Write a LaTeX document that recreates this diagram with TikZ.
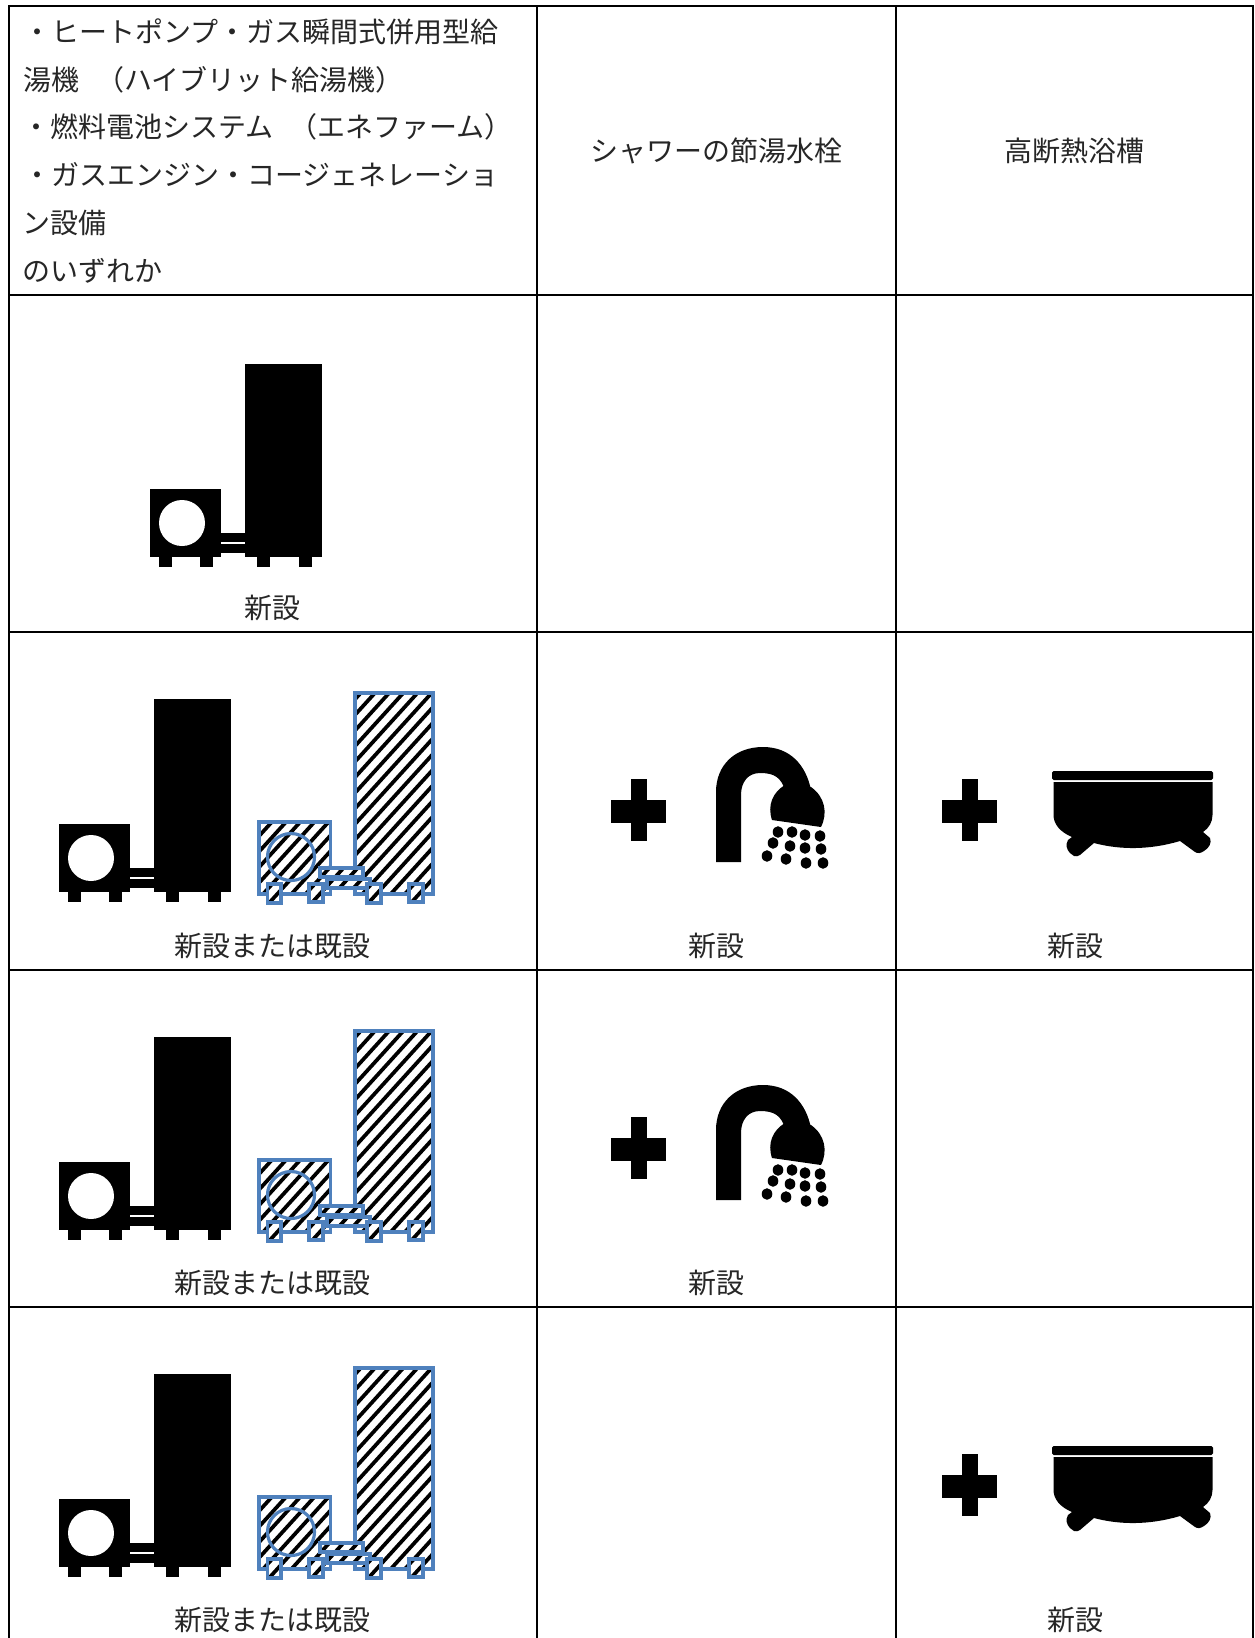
\documentclass[tikz,border=0pt]{standalone}
\usepackage{fontspec}
\setmainfont{Noto Sans CJK JP}
\newcommand{\allhatch}{%
  \foreach \k in {0,...,32}{%
    \pgfmathsetmacro{\cc}{690+\k*15.6}%
    \draw[hatchline] (250,\cc) -- (440,\cc-1.1*190);
  }}
\newcommand{\hatchbox}[4]{%
  \fill[white] (#1,#2) rectangle (#3,#4);
  \begin{scope}
    \clip (#1,#2) rectangle (#3,#4);
    \allhatch
  \end{scope}
  \draw[blueedge] (#1,#2) rectangle (#3,#4);
}
\tikzset{
  grid/.style={line width=1.5pt,black},
  hatchline/.style={line width=2.8pt,black},
  blueedge/.style={line width=2.4pt,color=edgeblue},
  txt/.style={inner sep=0pt,font=\fontsize{21pt}{21pt}\selectfont,text=black!85},
  solidicon/.pic={
    \fill (59,824) rectangle (130,892);
    \fill[white] (91,858) circle (23);
    \fill (68,892) rectangle (81,902);
    \fill (109,892) rectangle (122,902);
    \fill (130,868) rectangle (154,877);
    \fill (130,879) rectangle (154,888);
    \fill (154,699) rectangle (231,892);
    \fill (166,892) rectangle (179,902);
    \fill (208,892) rectangle (221,902);
  },
  hatchicon/.pic={
    \hatchbox{355}{693}{433}{894}
    \hatchbox{259}{822}{330.5}{894}
    \draw[blueedge] (291,857) circle (23.5);
    \hatchbox{320}{868}{363}{877}
    \hatchbox{327}{879}{370}{888}
    \hatchbox{267.5}{884}{281}{903}
    \hatchbox{309}{884}{323}{902}
    \hatchbox{367}{884}{381}{903}
    \hatchbox{409}{884}{423}{902}
  },
  plussign/.pic={
    \fill (-28,-10.5) rectangle (27.5,12.5);
    \fill (-7.5,-31) rectangle (8,31);
  },
  shower/.pic={
    \fill (716,862) -- (716,792) .. controls (716,765) and (735,747) .. (763,747)
      .. controls (790,747) and (806,765) .. (811,790)
      -- (785,790)
      .. controls (781,778) and (775,773) .. (760,773)
      .. controls (748,773) and (741,782) .. (741,795) -- (741,862) -- cycle;
    \fill (772,820) .. controls (767,805) and (773,792) .. (785,785)
      -- (811,787) .. controls (825,797) and (828,813) .. (821,827) -- cycle;
    \foreach \dx/\dy in {778/832,792/832,805/835,820/836,773/843,790/846,805/848,821/849,767/856,786/859,806/863,823/863}
      \fill (\dx,\dy) ellipse (5.3 and 5.8);
  },
  bathtub/.pic={
    \fill[rounded corners=1.2] (1052,771) rectangle (1213,780);
    \fill (1053.5,782) -- (1053.5,815) .. controls (1053.5,824) and (1060,832) .. (1072,837)
      -- (1068,840) .. controls (1065,845) and (1067,850) .. (1070,853) -- (1074,856)
      .. controls (1076,857) and (1078,856) .. (1080,855) -- (1094,843)
      .. controls (1120,850) and (1150,850) .. (1180,841) -- (1195,852)
      .. controls (1198,854) and (1201,853) .. (1204,851)
      .. controls (1209,848) and (1212,843) .. (1210,838) -- (1203,832)
      .. controls (1209,828) and (1212.5,822) .. (1212.5,815) -- (1212.5,782) -- cycle;
  }
}
\definecolor{edgeblue}{HTML}{4F81BD}
\begin{document}
\begin{tikzpicture}[x=0.75pt,y=-0.75pt]
\useasboundingbox (0,0) rectangle (1255,1638);
% table rules
\draw[grid] (8.5,1638) -- (8.5,6) -- (1253,6) -- (1253,1638);
\draw[grid] (537,6) -- (537,1638);
\draw[grid] (896,6) -- (896,1638);
\foreach \ry in {295,632,970,1307} \draw[grid] (8.5,\ry) -- (1253,\ry);
% header
\node[txt,anchor=west] (h1) at (23,32) {・ヒートポンプ・ガス瞬間式併用型給};
\node[txt,anchor=west] (h2a) at (23,80) {湯機};
\node[txt,anchor=west] (h2b) at (96,80) {（ハイブリット給湯機）};
\node[txt,anchor=west] (h3a) at (22,127) {・燃料電池システム};
\node[txt,anchor=west] (h3b) at (289,127) {（エネファーム）};
\node[txt,anchor=west] (h4) at (23,175) {・ガスエンジン・コージェネレーショ};
\node[txt,anchor=west] (h5) at (22,223) {ン設備};
\node[txt,anchor=west] (h6) at (22,271) {のいずれか};
\node[txt] (h7) at (716.5,151) {シャワーの節湯水栓};
\node[txt] (h8) at (1074.5,151) {高断熱浴槽};
% row 2
\pic at (91,-335) {solidicon};
\node[txt] (r2a) at (272,608) {新設};
% row 3
\pic at (0,0) {solidicon};
\pic at (0,0) {hatchicon};
\pic at (638.5,810) {plussign};
\pic at (0,0) {shower};
\pic at (969.5,810) {plussign};
\pic at (0,0) {bathtub};
\node[txt] (r3a) at (272,945.5) {新設または既設};
\node[txt] (r3b) at (716,945.5) {新設};
\node[txt] (r3c) at (1075,945.5) {新設};
% row 4
\pic at (0,338) {solidicon};
\pic at (0,338) {hatchicon};
\pic at (638.5,1148) {plussign};
\pic at (0,338) {shower};
\node[txt] (r4a) at (272,1282.5) {新設または既設};
\node[txt] (r4b) at (716,1282.5) {新設};
% row 5
\pic at (0,675) {solidicon};
\pic at (0,675) {hatchicon};
\pic at (969.5,1485) {plussign};
\pic at (0,675) {bathtub};
\node[txt] (r5a) at (272,1620) {新設または既設};
\node[txt] (r5c) at (1075,1620) {新設};
\end{tikzpicture}
\end{document}
